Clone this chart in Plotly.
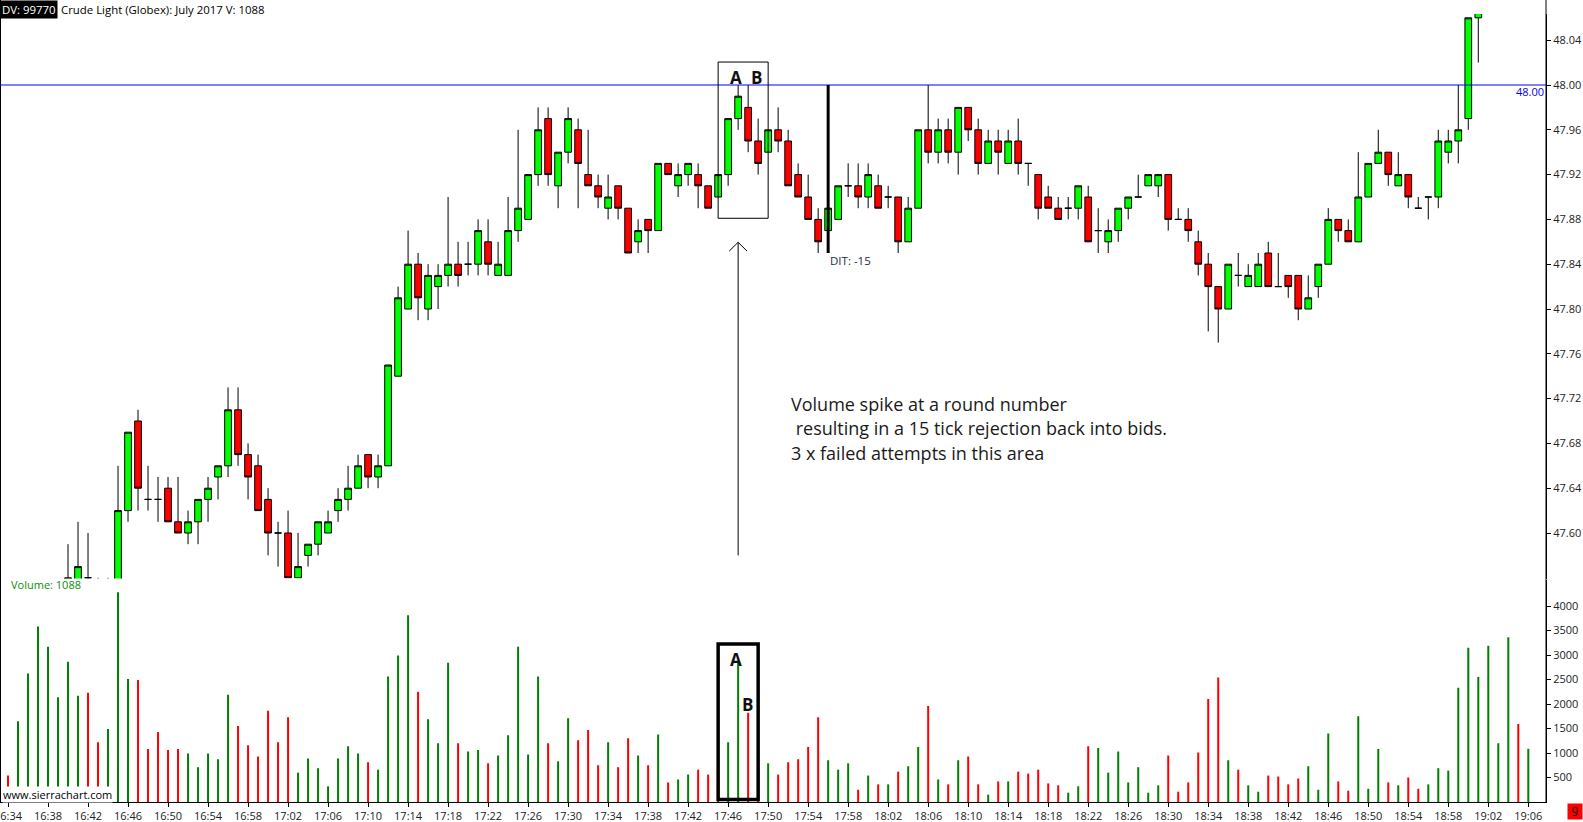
import pandas as pd
import plotly.graph_objects as go

# one-minute bars, 16:34 .. 19:06
times = pd.date_range("2017-05-19 16:34", periods=153, freq="min").strftime("%H:%M").tolist()

open_ = [47.52, 47.50, 47.51, 47.52, 47.53, 47.53, 47.54, 47.55, 47.56, 47.55,
         47.53, 47.55, 47.62, 47.70, 47.63, 47.63, 47.64, 47.61, 47.60, 47.61,
         47.63, 47.65, 47.66, 47.71, 47.67, 47.66, 47.63, 47.60, 47.60, 47.56,
         47.58, 47.59, 47.60, 47.62, 47.63, 47.64, 47.67, 47.65, 47.66, 47.74,
         47.80, 47.84, 47.80, 47.82, 47.83, 47.84, 47.84, 47.84, 47.86, 47.83,
         47.83, 47.87, 47.88, 47.92, 47.97, 47.91, 47.94, 47.96, 47.92, 47.91,
         47.89, 47.91, 47.89, 47.86, 47.88, 47.87, 47.93, 47.91, 47.92, 47.92,
         47.91, 47.90, 47.92, 47.97, 47.98, 47.95, 47.94, 47.96, 47.95, 47.92,
         47.90, 47.88, 47.87, 47.88, 47.91, 47.91, 47.90, 47.91, 47.90, 47.90,
         47.86, 47.89, 47.96, 47.94, 47.96, 47.94, 47.98, 47.96, 47.93, 47.95,
         47.93, 47.95, 47.93, 47.92, 47.90, 47.89, 47.89, 47.89, 47.90, 47.87,
         47.86, 47.87, 47.89, 47.90, 47.91, 47.91, 47.92, 47.88, 47.88, 47.86,
         47.84, 47.82, 47.80, 47.83, 47.82, 47.82, 47.85, 47.82, 47.83, 47.83,
         47.80, 47.82, 47.84, 47.88, 47.87, 47.86, 47.90, 47.93, 47.94, 47.91,
         47.92, 47.89, 47.90, 47.90, 47.94, 47.95, 47.97, 48.06, 48.09, 48.12,
         48.13, 48.15, 48.13]
high = [47.53, 47.52, 47.53, 47.54, 47.55, 47.55, 47.59, 47.61, 47.60, 47.56,
        47.56, 47.66, 47.69, 47.71, 47.66, 47.65, 47.65, 47.65, 47.62, 47.63,
        47.65, 47.66, 47.73, 47.73, 47.68, 47.67, 47.64, 47.61, 47.62, 47.60,
        47.59, 47.61, 47.62, 47.64, 47.66, 47.67, 47.67, 47.67, 47.75, 47.82,
        47.87, 47.85, 47.84, 47.84, 47.90, 47.86, 47.86, 47.88, 47.88, 47.86,
        47.90, 47.96, 47.92, 47.98, 47.98, 47.94, 47.98, 47.97, 47.96, 47.92,
        47.92, 47.91, 47.89, 47.88, 47.88, 47.93, 47.93, 47.93, 47.93, 47.93,
        47.91, 47.92, 47.97, 48.00, 48.00, 47.97, 47.96, 47.98, 47.96, 47.93,
        47.92, 47.89, 47.89, 47.91, 47.93, 47.93, 47.93, 47.92, 47.91, 47.90,
        47.90, 47.96, 48.00, 47.97, 47.97, 47.98, 47.98, 47.97, 47.96, 47.96,
        47.96, 47.97, 47.93, 47.92, 47.91, 47.90, 47.90, 47.91, 47.91, 47.89,
        47.88, 47.89, 47.90, 47.92, 47.92, 47.92, 47.92, 47.89, 47.89, 47.87,
        47.85, 47.82, 47.84, 47.85, 47.84, 47.85, 47.86, 47.85, 47.83, 47.83,
        47.83, 47.84, 47.89, 47.88, 47.88, 47.94, 47.93, 47.96, 47.94, 47.94,
        47.92, 47.90, 47.90, 47.96, 47.96, 48.00, 48.06, 48.10, 48.13, 48.14,
        48.16, 48.16, 48.15]
low = [47.49, 47.49, 47.50, 47.51, 47.52, 47.52, 47.53, 47.54, 47.54, 47.52,
       47.52, 47.54, 47.61, 47.62, 47.62, 47.61, 47.61, 47.60, 47.59, 47.59,
       47.61, 47.63, 47.65, 47.66, 47.63, 47.62, 47.58, 47.57, 47.56, 47.56,
       47.57, 47.58, 47.60, 47.61, 47.62, 47.64, 47.64, 47.64, 47.66, 47.74,
       47.80, 47.79, 47.79, 47.80, 47.82, 47.82, 47.83, 47.83, 47.83, 47.83,
       47.83, 47.86, 47.88, 47.91, 47.91, 47.89, 47.93, 47.89, 47.91, 47.89,
       47.88, 47.88, 47.85, 47.85, 47.85, 47.87, 47.92, 47.90, 47.91, 47.89,
       47.89, 47.90, 47.91, 47.96, 47.94, 47.92, 47.94, 47.94, 47.91, 47.90,
       47.88, 47.85, 47.86, 47.88, 47.90, 47.89, 47.89, 47.89, 47.89, 47.85,
       47.86, 47.89, 47.93, 47.93, 47.93, 47.92, 47.95, 47.92, 47.93, 47.92,
       47.93, 47.92, 47.91, 47.88, 47.89, 47.88, 47.88, 47.88, 47.86, 47.85,
       47.85, 47.86, 47.88, 47.90, 47.91, 47.90, 47.87, 47.88, 47.86, 47.83,
       47.78, 47.77, 47.80, 47.82, 47.82, 47.82, 47.82, 47.82, 47.81, 47.79,
       47.80, 47.81, 47.84, 47.86, 47.86, 47.86, 47.90, 47.93, 47.91, 47.91,
       47.89, 47.89, 47.88, 47.89, 47.93, 47.93, 47.96, 48.02, 48.08, 48.10,
       48.12, 48.12, 48.12]
close = [47.50, 47.51, 47.52, 47.53, 47.54, 47.54, 47.56, 47.57, 47.56, 47.53,
         47.55, 47.62, 47.69, 47.64, 47.63, 47.63, 47.61, 47.60, 47.61, 47.63,
         47.64, 47.66, 47.71, 47.67, 47.65, 47.62, 47.60, 47.60, 47.56, 47.57,
         47.59, 47.61, 47.61, 47.63, 47.64, 47.66, 47.65, 47.66, 47.75, 47.81,
         47.84, 47.81, 47.83, 47.83, 47.84, 47.83, 47.84, 47.87, 47.84, 47.84,
         47.87, 47.89, 47.92, 47.96, 47.92, 47.94, 47.97, 47.93, 47.91, 47.90,
         47.90, 47.89, 47.85, 47.87, 47.87, 47.93, 47.92, 47.92, 47.93, 47.91,
         47.89, 47.92, 47.97, 47.99, 47.95, 47.93, 47.96, 47.95, 47.91, 47.90,
         47.88, 47.86, 47.89, 47.91, 47.91, 47.90, 47.92, 47.89, 47.90, 47.86,
         47.89, 47.96, 47.94, 47.96, 47.94, 47.98, 47.96, 47.93, 47.95, 47.94,
         47.95, 47.93, 47.93, 47.89, 47.89, 47.88, 47.89, 47.91, 47.86, 47.87,
         47.87, 47.89, 47.90, 47.90, 47.92, 47.92, 47.88, 47.88, 47.87, 47.84,
         47.82, 47.80, 47.84, 47.83, 47.83, 47.84, 47.82, 47.82, 47.82, 47.80,
         47.81, 47.84, 47.88, 47.87, 47.86, 47.90, 47.93, 47.94, 47.92, 47.92,
         47.90, 47.89, 47.90, 47.95, 47.95, 47.96, 48.06, 48.09, 48.12, 48.13,
         48.15, 48.13, 48.14]
volume = [540, 1650, 2620, 3580, 3170, 2140, 2860, 2170, 2230, 1220,
          1490, 4280, 2510, 2490, 1080, 1430, 1060, 1080, 990, 710,
          990, 870, 2190, 1550, 1160, 930, 1860, 1220, 1730, 600,
          890, 690, 320, 890, 1140, 990, 810, 660, 2560, 2990,
          3810, 2250, 1690, 1200, 2840, 1200, 1030, 1060, 790, 950,
          1360, 3170, 970, 2560, 1200, 830, 1710, 1260, 1470, 750,
          1220, 710, 1300, 950, 750, 1380, 400, 460, 560, 660,
          560, 420, 1220, 2860, 1820, 640, 790, 560, 810, 870,
          1120, 1730, 850, 660, 790, 250, 540, 360, 360, 620,
          730, 1120, 1960, 460, 360, 850, 930, 360, 150, 420,
          420, 620, 580, 660, 380, 340, 190, 320, 1140, 1100,
          600, 1030, 400, 710, 190, 340, 950, 210, 400, 1010,
          2100, 2540, 850, 660, 340, 210, 540, 520, 360, 480,
          730, 250, 1400, 420, 230, 1750, 270, 1080, 400, 340,
          500, 270, 360, 690, 640, 2330, 3150, 2550, 3190, 1200,
          3360, 1590, 1088]

tick_times = times[::4]
price_ticks = [47.60, 47.64, 47.68, 47.72, 47.76, 47.80, 47.84, 47.88, 47.92, 47.96, 48.00, 48.04]
volume_ticks = [500, 1000, 1500, 2000, 2500, 3000, 3500, 4000]

# volume colour: close vs open, then close vs previous close, else keep previous
vol_colors = []
for k in range(len(close)):
    if close[k] > open_[k]:
        up = True
    elif close[k] < open_[k]:
        up = False
    elif k > 0 and close[k] != close[k - 1]:
        up = close[k] > close[k - 1]
    else:
        up = vol_colors[-1] == "#008000" if vol_colors else False
    vol_colors.append("#008000" if up else "#ff0000")

# page pixels -> paper coords (plot area 1545.7 x 802, top-left at 0,0)
PW, PH = 1545.7, 802.0


def px(x):
    return x / PW


def py(y):
    return (PH - y) / PH


Y48, TICK_PX = 85.0, 1120.0          # y of 48.00 and pixels per 1.00 of price
VOL_PX = 0.049                      # pixels per contract

font = "Open Sans"
tickfont = dict(family=font, size=11, color="#222222")
label_font = dict(family=font, size=17, color="#111111", weight="bold")

fig = go.Figure()

fig.add_trace(go.Candlestick(
    x=times, open=open_, high=high, low=low, close=close,
    increasing=dict(line=dict(color="black", width=1), fillcolor="#00ff00"),
    decreasing=dict(line=dict(color="black", width=1), fillcolor="#ff0000"),
    whiskerwidth=0, xaxis="x", yaxis="y", showlegend=False,
))

fig.add_trace(go.Bar(
    x=times, y=volume, width=0.2,
    marker=dict(color=vol_colors, line=dict(width=0)),
    xaxis="x", yaxis="y2", showlegend=False,
))

shapes = [
    # borders
    dict(type="line", xref="paper", yref="paper", x0=0, x1=0, y0=0, y1=1,
         line=dict(color="black", width=2)),
    dict(type="line", xref="paper", yref="paper", x0=1, x1=1, y0=0, y1=1,
         line=dict(color="black", width=1)),
    # 48.00 level
    dict(type="line", xref="paper", yref="y", x0=0, x1=1, y0=48.00, y1=48.00,
         line=dict(color="#0000ff", width=1)),
    # DIT measure line
    dict(type="line", xref="x", yref="y", x0=82, x1=82, y0=47.85, y1=48.00,
         line=dict(color="black", width=3)),
    # A/B box on price
    dict(type="rect", xref="x", yref="y", x0=71.0, x1=76.0, y0=47.881, y1=48.0205,
         line=dict(color="black", width=1)),
    # arrow
    dict(type="line", xref="x", yref="y", x0=73.0, x1=73.0, y0=47.58, y1=47.8596,
         line=dict(color="black", width=1)),
    dict(type="line", xref="x", yref="y", x0=72.1, x1=73.0, y0=47.8516, y1=47.8596,
         line=dict(color="black", width=1)),
    dict(type="line", xref="x", yref="y", x0=73.9, x1=73.0, y0=47.8516, y1=47.8596,
         line=dict(color="black", width=1)),
    # A/B box on volume
    dict(type="rect", xref="x", yref="y2", x0=71.0, x1=75.0, y0=50, y1=3222,
         line=dict(color="black", width=3.5)),
]

notes = ["Volume spike at a round number",
         "\u00a0resulting in a 15 tick rejection back into bids.",
         "3 x failed attempts in this area"]
note_y = [403.8, 428.1, 453.3]

annotations = [
    dict(text="DV: 99770", xref="paper", yref="paper", x=0, y=1, xanchor="left", yanchor="top",
         showarrow=False, bgcolor="black", borderpad=1, font=dict(family=font, size=11.4, color="white")),
    dict(text="Crude Light (Globex): July 2017 V: 1088", xref="paper", yref="paper",
         x=px(59), y=1, xanchor="left", yanchor="top", showarrow=False, borderpad=1,
         font=dict(family=font, size=11.4, color="black")),
    dict(text="48.00", xref="paper", yref="paper", x=1, y=py(91.9), xanchor="right", yanchor="middle",
         showarrow=False, font=dict(family=font, size=11, color="#0000ff")),
    dict(text="A", xref="x", yref="y", x=72.8, y=48.0069, showarrow=False, font=label_font),
    dict(text="B", xref="x", yref="y", x=74.8, y=48.0069, showarrow=False, font=label_font),
    dict(text="DIT: -15", xref="x", yref="paper", x=82, y=py(260.5), xanchor="left", yanchor="middle",
         showarrow=False, font=dict(family=font, size=11.5, color="#1e2a4a")),
    dict(text="A", xref="x", yref="y2", x=72.8, y=2912, showarrow=False, font=label_font),
    dict(text="B", xref="x", yref="y2", x=73.9, y=1986, showarrow=False, font=label_font),
    dict(text="Volume: 1088", xref="paper", yref="paper", x=px(9), y=py(584.6), xanchor="left",
         yanchor="middle", showarrow=False, font=dict(family=font, size=11, color="#0a8f0a")),
    dict(text="www.sierrachart.com", xref="paper", yref="paper", x=px(1.5), y=py(794.6), xanchor="left",
         yanchor="middle", showarrow=False, bgcolor="white", borderpad=0,
         font=dict(family=font, size=11, color="black")),
    dict(text="9", xref="paper", yref="paper", x=px(1575), y=py(811.5), xanchor="center",
         yanchor="middle", showarrow=False, bgcolor="#ff0000", width=14, height=15, borderpad=0,
         font=dict(family=font, size=12, color="black")),
]
for line, yy in zip(notes, note_y):
    annotations.append(dict(text=line, xref="paper", yref="paper", x=px(788.5), y=py(yy),
                            xanchor="left", yanchor="middle", showarrow=False,
                            font=dict(family=font, size=18, color="#1a1a1a")))

fig.update_layout(
    width=1583, height=822,
    margin=dict(l=0, r=1583 - PW, t=0, b=822 - PH),
    paper_bgcolor="white", plot_bgcolor="white",
    boxgap=0.33, boxgroupgap=0,
    xaxis=dict(type="category", range=[-0.8, (PW - 8) / 10], anchor="y2", domain=[0, 1],
               tickvals=tick_times, ticks="outside", ticklen=4, tickcolor="black",
               showline=True, linecolor="black", linewidth=1, showgrid=False, automargin=False,
               rangeslider=dict(visible=False), ticklabeloverflow="allow", tickfont=tickfont),
    yaxis=dict(domain=[py(578.5), py(14.1)],
               range=[48 - (578.5 - Y48) / TICK_PX, 48 + (Y48 - 14.1) / TICK_PX],
               side="right", anchor="x", tickvals=price_ticks, tickformat=".2f",
               ticks="outside", ticklen=4, tickcolor="black", showline=True, linecolor="black",
               showgrid=False, zeroline=False, automargin=False, tickfont=tickfont),
    yaxis2=dict(domain=[0, py(579.5)], range=[0, (PH - 579.5) / VOL_PX],
                side="right", anchor="x", tickvals=volume_ticks,
                ticks="outside", ticklen=4, tickcolor="black", showline=True, linecolor="black",
                showgrid=False, zeroline=False, automargin=False, tickfont=tickfont),
    shapes=shapes,
    annotations=annotations,
)

fig.write_html("out.html", config={"displayModeBar": False},
               post_script="document.body.style.margin='0';document.body.style.overflow='hidden';")
